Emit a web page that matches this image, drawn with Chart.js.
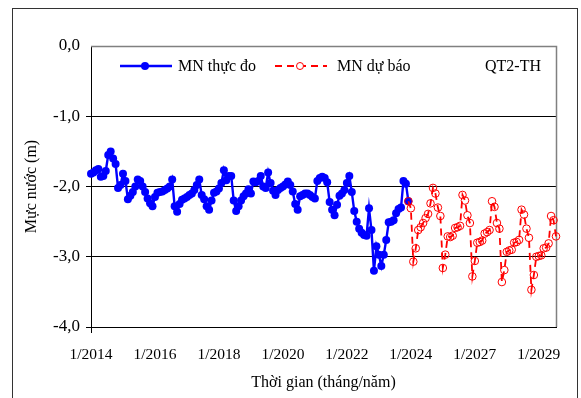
<!DOCTYPE html>
<html>
<head>
<meta charset="utf-8">
<script src="https://cdn.jsdelivr.net/npm/chart.js@4.4.1/dist/chart.umd.min.js"></script>
<style>
  html, body { margin: 0; padding: 0; background: #fff; }
  #wrap { width: 581px; height: 398px; }
</style>
</head>
<body>
<div id="wrap"><canvas id="chart" width="581" height="398"></canvas></div>
<script>
// ── Data ─────────────────────────────────────────────────────────────────────
// observed water level (m), one value per step from 1/2014
const observed = [
  -1.82, -1.80, -1.77, -1.75, -1.86, -1.85, -1.78, -1.55, -1.50, -1.60,
  -1.68, -2.02, -1.98, -1.82, -1.92, -2.18, -2.13, -2.08, -2.00, -1.90,
  -1.92, -2.00, -2.08, -2.17, -2.24, -2.28, -2.15, -2.09, -2.08, -2.07,
  -2.05, -2.03, -2.00, -1.90, -2.28, -2.36, -2.25, -2.19, -2.17, -2.15,
  -2.12, -2.10, -2.05, -1.98, -1.90, -2.12, -2.18, -2.28, -2.33, -2.20,
  -2.09, -2.07, -2.03, -1.95, -1.77, -1.91, -1.85, -1.85, -2.20, -2.35,
  -2.28, -2.20, -2.14, -2.10, -2.04, -2.10, -1.93, -1.94, -1.92, -1.85,
  -2.00, -2.02, -1.80, -1.95, -2.06, -2.12, -2.05, -2.02, -2.00, -1.97,
  -1.93, -1.98, -2.07, -2.25, -2.33, -2.14, -2.12, -2.10, -2.10, -2.12,
  -2.15, -2.17, -1.92, -1.88, -1.86, -1.88, -1.94, -2.22, -2.33, -2.41,
  -2.26, -2.13, -2.10, -2.05, -1.95, -1.85, -2.08, -2.35, -2.50, -2.60,
  -2.66, -2.69, -2.70, -2.31, -2.62, -3.20, -2.85, -2.97, -3.13, -2.97,
  -2.76, -2.51, -2.50, -2.48, -2.38, -2.32, -2.30, -1.92, -1.96, -2.21
];

// forecast water level (m), starting on the last observed step
const forecast = [
  -2.21, -2.31, -3.07, -2.88, -2.62, -2.58, -2.52, -2.45, -2.39, -2.24,
  -2.02, -2.10, -2.30, -2.42, -3.16, -2.97, -2.71, -2.72, -2.70, -2.59,
  -2.58, -2.56, -2.12, -2.20, -2.41, -2.52, -3.28, -3.06, -2.80, -2.79,
  -2.77, -2.67, -2.65, -2.62, -2.21, -2.29, -2.52, -2.60, -3.36, -3.19,
  -2.93, -2.91, -2.90, -2.80, -2.79, -2.76, -2.33, -2.40, -2.60, -2.73,
  -3.47, -3.26, -3.00, -2.99, -2.98, -2.88, -2.87, -2.81, -2.42, -2.48,
  -2.71
];

const tickLabels = ['1/2014', '1/2016', '1/2018', '1/2020', '1/2022', '1/2024', '1/2027', '1/2029'];
const TICK_EVERY = 26;

const seriesNames = ['MN thực đo', 'MN dự báo'];
const wellName = 'QT2-TH';

// ── Build series on a shared step axis ───────────────────────────────────────
const forecastStart = observed.length - 1;
const steps = Array.from({ length: forecastStart + forecast.length }, (_, i) => i);
const forecastData = steps.map(i => (i >= forecastStart ? forecast[i - forecastStart] : null));

const SERIF = "'Liberation Serif', 'Times New Roman', serif";
const BLUE = '#0000ff';
const RED = '#ff0000';

// ── Plugins: white page, outer frame, plot frame, legend ─────────────────────
const frame = {
  id: 'frame',
  beforeDraw(chart) {
    const { ctx } = chart;
    ctx.save();
    ctx.fillStyle = '#fff';
    ctx.fillRect(0, 0, chart.width, chart.height);
    ctx.strokeStyle = '#333';
    ctx.lineWidth = 1;
    ctx.strokeRect(12.5, 8.5, 565, 420);
    ctx.restore();
  },
  beforeDatasetsDraw(chart) {
    const { ctx, chartArea: a } = chart;
    ctx.save();
    ctx.strokeStyle = '#808080';
    ctx.lineWidth = 1.5;
    ctx.beginPath();
    ctx.moveTo(a.left, a.top + 0.5);
    ctx.lineTo(a.right + 0.5, a.top + 0.5);
    ctx.lineTo(a.right + 0.5, a.bottom);
    ctx.stroke();
    ctx.restore();
  }
};

const legendBox = {
  id: 'legendBox',
  afterDraw(chart) {
    const { ctx } = chart;
    const y = 66;
    const ds = chart.data.datasets;
    ctx.save();
    ctx.font = '16px ' + SERIF;
    ctx.textBaseline = 'middle';

    // measured
    ctx.strokeStyle = ds[1].borderColor;
    ctx.lineWidth = ds[1].borderWidth;
    ctx.beginPath(); ctx.moveTo(120, y); ctx.lineTo(172, y); ctx.stroke();
    ctx.fillStyle = ds[1].pointBackgroundColor;
    ctx.beginPath(); ctx.arc(145, y, ds[1].pointRadius, 0, Math.PI * 2); ctx.fill();
    ctx.fillStyle = '#000';
    ctx.fillText(ds[1].label, 178, y + 1);

    // forecast
    ctx.strokeStyle = ds[0].borderColor;
    ctx.lineWidth = ds[0].borderWidth;
    ctx.setLineDash(ds[0].borderDash);
    ctx.beginPath(); ctx.moveTo(275, y); ctx.lineTo(327, y); ctx.stroke();
    ctx.setLineDash([]);
    ctx.lineWidth = 1;
    ctx.fillStyle = '#fff';
    ctx.beginPath(); ctx.arc(300, y, 3.5, 0, Math.PI * 2); ctx.fill(); ctx.stroke();
    ctx.fillStyle = '#000';
    ctx.fillText(ds[0].label, 337, y + 1);

    ctx.fillText(wellName, 485, y + 1);
    ctx.restore();
  }
};

// ── Chart ────────────────────────────────────────────────────────────────────
new Chart(document.getElementById('chart'), {
  type: 'line',
  data: {
    labels: steps,
    datasets: [
      { label: seriesNames[1], data: forecastData, borderColor: RED, borderWidth: 1.8,
        borderDash: [7, 5], pointRadius: 3.8, pointBorderWidth: 1,
        pointBorderColor: RED, pointBackgroundColor: 'rgba(255,255,255,0)', tension: 0 },
      { label: seriesNames[0], data: observed, borderColor: BLUE, borderWidth: 2.4,
        pointRadius: 4, pointBorderWidth: 0, pointBackgroundColor: BLUE, tension: 0 }
    ]
  },
  options: {
    responsive: false,
    animation: false,
    devicePixelRatio: 1,
    layout: { padding: { left: 0, top: 46, right: 25, bottom: 0 } },
    plugins: { legend: { display: false }, tooltip: { enabled: false } },
    scales: {
      x: {
        type: 'category',
        afterFit: s => { s.height = 71; },
        border: { color: '#000', width: 1 },
        grid: {
          drawOnChartArea: false, drawTicks: true, tickLength: 6,
          color: c => (c.index % TICK_EVERY === 0 ? '#000' : 'rgba(0,0,0,0)')
        },
        ticks: {
          autoSkip: false, maxRotation: 0, padding: 13, color: '#000',
          font: { family: SERIF, size: 15.5 },
          callback: (v, i) => (i % TICK_EVERY === 0 ? tickLabels[i / TICK_EVERY] : null)
        },
        title: {
          display: true, text: 'Thời gian (tháng/năm)', color: '#000',
          font: { family: SERIF, size: 16 }, padding: { top: 0, bottom: 6 }
        }
      },
      y: {
        min: -4, max: 0,
        afterFit: s => { s.width = 91; },
        border: { color: '#000', width: 1 },
        grid: {
          tickLength: 5, lineWidth: 1,
          color: c => (c.tick && c.tick.value === 0 ? 'rgba(0,0,0,0)' : '#000')
        },
        ticks: {
          stepSize: 1, padding: 6, color: '#000',
          font: { family: SERIF, size: 17 },
          callback: v => v.toFixed(1).replace('.', ',')
        },
        title: {
          display: true, text: 'Mực nước (m)', color: '#000',
          font: { family: SERIF, size: 16 }, padding: { top: 22, bottom: 0 }
        }
      }
    }
  },
  plugins: [frame, legendBox]
});
</script>
</body>
</html>
